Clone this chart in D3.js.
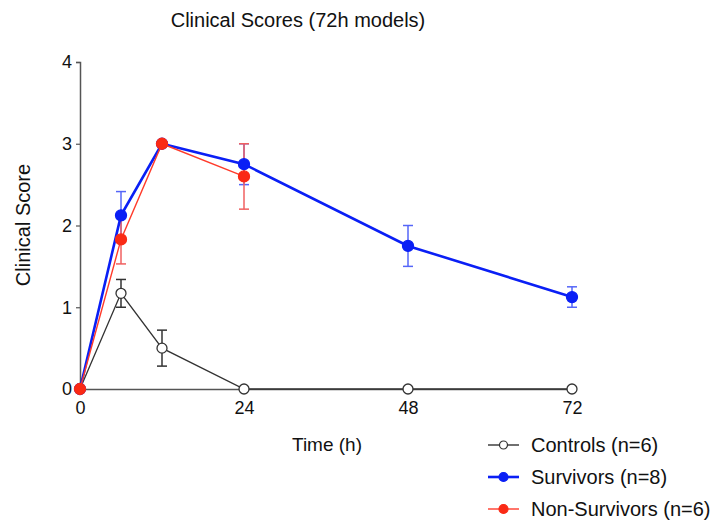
<!DOCTYPE html>
<html>
<head>
<meta charset="utf-8">
<script src="https://d3js.org/d3.v7.min.js"></script>
<style>
  body { margin: 0; background: #fff; }
  text { font-family: "Liberation Sans", Arial, sans-serif; fill: #111; }
</style>
</head>
<body>
<div id="graph"></div>
<script>
// data
var times = [0, 6, 12, 24, 48, 72];
var xTicks = [0, 24, 48, 72];
var yTicks = [0, 1, 2, 3, 4];

var controlsMean = [0, 1.17, 0.5, 0, 0, 0];
var controlsErr  = [0, 0.17, 0.22, 0, 0, 0];
var survMean = [0, 2.125, 3, 2.75, 1.75, 1.125];
var survErr  = [0, 0.29, 0, 0.25, 0.25, 0.125];
var nonSurvTimes = [0, 6, 12, 24];
var nonSurvMean = [0, 1.83, 3, 2.6];
var nonSurvErr  = [0, 0.3, 0, 0.4];

var seriesNames = ["Controls (n=6)", "Survivors (n=8)", "Non-Survivors (n=6)"];

var W = 716, H = 525;
var svg = d3.select("#graph").append("svg")
  .attr("width", W).attr("height", H);

var x = d3.scaleLinear().domain([0, 72]).range([80, 572]);
var y = d3.scaleLinear().domain([0, 4]).range([389, 62]);

// axes
var yAxis = svg.append("g")
  .attr("transform", "translate(80,0)")
  .call(d3.axisLeft(y).tickValues(yTicks).tickFormat(d3.format("d")).tickSize(4).tickPadding(4));
yAxis.select(".domain").attr("stroke", "#555").attr("stroke-width", 1.5);
yAxis.selectAll(".tick line").attr("stroke", "#555").attr("stroke-width", 1.2);
yAxis.selectAll("text").attr("font-size", 18).style("font-family", "Liberation Sans, Arial, sans-serif").attr("fill", "#111");

var xAxis = svg.append("g")
  .attr("transform", "translate(0,389)")
  .call(d3.axisBottom(x).tickValues(xTicks).tickFormat(d3.format("d")).tickSizeInner(0).tickSizeOuter(0).tickPadding(12));
xAxis.select(".domain").attr("stroke", "#555").attr("stroke-width", 1.5);
xAxis.selectAll("text").attr("font-size", 18).style("font-family", "Liberation Sans, Arial, sans-serif").attr("fill", "#111");

// titles
svg.append("text").attr("x", 298).attr("y", 27)
  .attr("text-anchor", "middle").attr("font-size", 20).text("Clinical Scores (72h models)");
svg.append("text").attr("transform", "translate(30,225) rotate(-90)")
  .attr("text-anchor", "middle").attr("font-size", 20).text("Clinical Score");
svg.append("text").attr("x", 327).attr("y", 451)
  .attr("text-anchor", "middle").attr("font-size", 19).text("Time (h)");

function build(ts, m, e) {
  return ts.map(function(t, i) { return {t: t, m: m[i], e: e[i]}; });
}

var series = [
  {data: build(times, controlsMean, controlsErr), line: "#333", lw: 1.3, err: "#333", fill: "#fff", stroke: "#333", r: 5},
  {data: build(times, survMean, survErr), line: "#0a1ff5", lw: 2.6, err: "#5566f8", fill: "#0a1ff5", stroke: "#0a1ff5", r: 5.5},
  {data: build(nonSurvTimes, nonSurvMean, nonSurvErr), line: "#ff3b2b", lw: 1.4, err: "#f06060", fill: "#fa2a15", stroke: "#fa2a15", r: 5.5}
];

var line = d3.line().x(function(d) { return x(d.t); }).y(function(d) { return y(d.m); });

function drawErr(s) {
  var g = svg.append("g").attr("stroke", s.err).attr("stroke-width", 1.5).attr("fill", "none");
  s.data.filter(function(d) { return d.e > 0; }).forEach(function(d) {
    var cx = x(d.t);
    g.append("line").attr("x1", cx).attr("x2", cx).attr("y1", y(d.m - d.e)).attr("y2", y(d.m + d.e));
    g.append("line").attr("x1", cx - 5).attr("x2", cx + 5).attr("y1", y(d.m - d.e)).attr("y2", y(d.m - d.e));
    g.append("line").attr("x1", cx - 5).attr("x2", cx + 5).attr("y1", y(d.m + d.e)).attr("y2", y(d.m + d.e));
  });
}
function drawLine(s) {
  svg.append("path").datum(s.data).attr("d", line)
    .attr("fill", "none").attr("stroke", s.line).attr("stroke-width", s.lw);
}
function drawDots(s) {
  svg.append("g").selectAll("circle").data(s.data).enter().append("circle")
    .attr("cx", function(d) { return x(d.t); })
    .attr("cy", function(d) { return y(d.m); })
    .attr("r", s.r)
    .attr("fill", s.fill).attr("stroke", s.stroke).attr("stroke-width", 1.3);
}

[0, 1, 2].forEach(function(i) { drawErr(series[i]); });
drawLine(series[0]); drawDots(series[0]);
drawLine(series[1]); drawDots(series[1]);
drawLine(series[2]); drawDots(series[2]);

// legend
var leg = svg.append("g").selectAll("g").data(seriesNames).enter().append("g")
  .attr("transform", function(d, i) { return "translate(488," + (445 + i * 32) + ")"; });
leg.append("line").attr("x1", 0).attr("x2", 31).attr("y1", 0).attr("y2", 0)
  .attr("stroke", function(d, i) { return series[i].line; })
  .attr("stroke-width", function(d, i) { return i === 1 ? 2.6 : 1.4; });
leg.append("circle").attr("cx", 15.5).attr("cy", 0)
  .attr("r", function(d, i) { return i === 0 ? 4 : 4.5; })
  .attr("fill", function(d, i) { return series[i].fill; })
  .attr("stroke", function(d, i) { return series[i].stroke; }).attr("stroke-width", 1.2);
leg.append("text").attr("x", 43).attr("y", 7).attr("font-size", 20)
  .text(function(d) { return d; });
</script>
</body>
</html>
